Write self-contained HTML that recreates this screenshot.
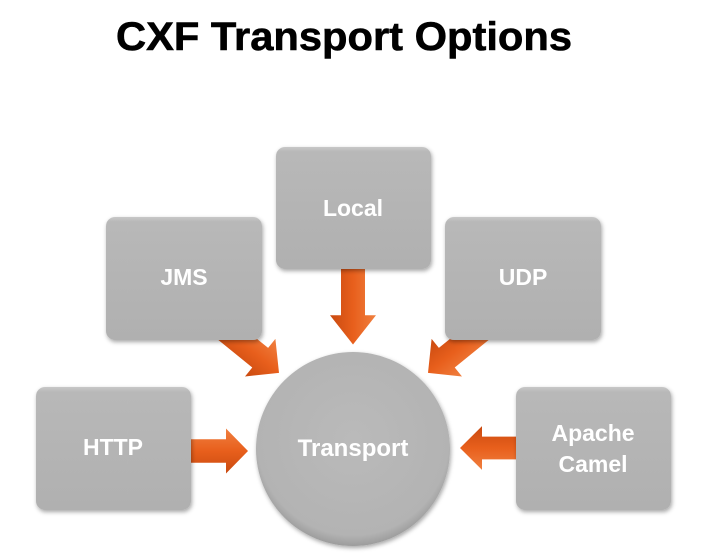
<!DOCTYPE html>
<html><head><style>
html,body{margin:0;padding:0;background:#fff;width:703px;height:556px;overflow:hidden}
</style></head><body>
<svg width="703" height="556" viewBox="0 0 703 556" xmlns="http://www.w3.org/2000/svg">
<defs>
<linearGradient id="bx" x1="0" y1="0" x2="0" y2="1">
<stop offset="0" stop-color="#c8c8c8"/><stop offset="0.04" stop-color="#b8b8b8"/><stop offset="1" stop-color="#b0b0b0"/>
</linearGradient>
<linearGradient id="ar" x1="0" y1="0" x2="0" y2="1">
<stop offset="0" stop-color="#f08040"/><stop offset="0.5" stop-color="#e85f1c"/><stop offset="1" stop-color="#c94a10"/>
</linearGradient>
<radialGradient id="ci" cx="0.5" cy="0.45" r="0.55">
<stop offset="0" stop-color="#bababa"/><stop offset="0.9" stop-color="#b3b3b3"/><stop offset="1" stop-color="#9c9c9c"/>
</radialGradient>
<filter id="sh" x="-10%" y="-10%" width="125%" height="130%"><feDropShadow dx="1" dy="2" stdDeviation="2" flood-color="#000" flood-opacity="0.35"/></filter>
<path id="arw" d="M0,-12 L40,-12 L40,-23 L62,0 L40,23 L40,12 L0,12 Z"/>
</defs>
<text x="344" y="50" text-anchor="middle" font-family="Liberation Sans, sans-serif" font-weight="bold" font-size="40" textLength="456" lengthAdjust="spacingAndGlyphs" fill="#000" stroke="#000" stroke-width="0.6">CXF Transport Options</text>

<g fill="url(#ar)">
<use href="#arw" transform="translate(226,330) rotate(39) scale(1.1,1.05)"/>
<use href="#arw" transform="translate(481,330) rotate(141) scale(1.1,1.05)"/>
<use href="#arw" transform="translate(353,262) rotate(90) scale(1.33,1)"/>
<use href="#arw" transform="translate(186,451) scale(1,0.98)"/>
<use href="#arw" transform="translate(522,448) rotate(180) scale(1,0.95)"/>
</g>

<g fill="url(#bx)" filter="url(#sh)">
<rect x="276" y="147" width="155" height="122" rx="9"/>
<rect x="106" y="217" width="156" height="123" rx="9"/>
<rect x="445" y="217" width="156" height="123" rx="9"/>
<rect x="36" y="387" width="155" height="123" rx="9"/>
<rect x="516" y="387" width="155" height="123" rx="9"/>
<circle cx="353" cy="449" r="97" fill="url(#ci)"/>
</g>

<g font-family="Liberation Sans, sans-serif" font-weight="bold" font-size="23" fill="#fff" text-anchor="middle">
<text x="353" y="216">Local</text>
<text x="184" y="285">JMS</text>
<text x="523" y="285">UDP</text>
<text x="113" y="455">HTTP</text>
<text x="593" y="441">Apache</text>
<text x="593" y="472">Camel</text>
<text x="353" y="456" font-size="24">Transport</text>
</g>
</svg>
</body></html>
